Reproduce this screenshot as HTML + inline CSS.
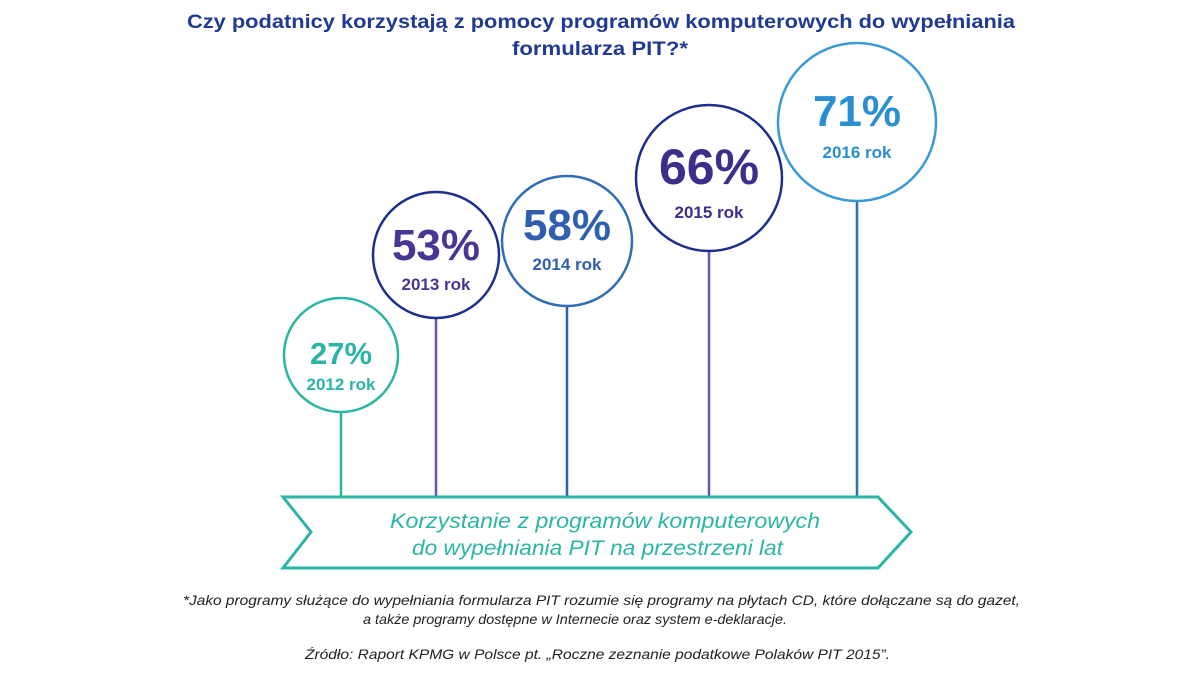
<!DOCTYPE html>
<html><head><meta charset="utf-8"><style>
html,body{margin:0;padding:0;background:#fff;}
svg{display:block;}
text{font-family:"Liberation Sans",sans-serif;}
</style></head><body>
<svg width="1200" height="675" viewBox="0 0 1200 675" xmlns="http://www.w3.org/2000/svg">
<text x="187" y="28" textLength="828" lengthAdjust="spacingAndGlyphs" font-size="19.5" font-weight="bold" fill="#1f3a93">Czy podatnicy korzystają z pomocy programów komputerowych do wypełniania</text>
<text x="512" y="55" textLength="176" lengthAdjust="spacingAndGlyphs" font-size="19.5" font-weight="bold" fill="#1f3a93">formularza PIT?*</text>

<g stroke-width="2.5" fill="#fff">
<line x1="341" y1="413" x2="341" y2="497" stroke="#2bb5a5"/>
<line x1="436" y1="318" x2="436" y2="497" stroke="#6b55b0"/>
<line x1="567" y1="306" x2="567" y2="497" stroke="#2f5fb0"/>
<line x1="709" y1="251" x2="709" y2="497" stroke="#6b55b0"/>
<line x1="857" y1="201" x2="857" y2="497" stroke="#2f6db5"/>
<circle cx="341" cy="355" r="57" stroke="#2bb5a5"/>
<circle cx="436" cy="255" r="63" stroke="#1e2e8c"/>
<circle cx="567" cy="241" r="65" stroke="#2f6db5"/>
<circle cx="709" cy="178" r="73" stroke="#1e2e8c"/>
<circle cx="857" cy="122" r="79" stroke="#3a9ad6"/>
</g>

<g font-weight="bold" text-anchor="middle">
<text x="341" y="364" font-size="31" fill="#2bb5a5">27%</text>
<text x="341" y="390" font-size="17" fill="#2bb5a5">2012 rok</text>
<text x="436" y="260" font-size="44" fill="#4a3594">53%</text>
<text x="436" y="290" font-size="17" fill="#4a3594">2013 rok</text>
<text x="567" y="240" font-size="44" fill="#2f5fb0">58%</text>
<text x="567" y="270" font-size="17" fill="#2f5fb0">2014 rok</text>
<text x="709" y="184" font-size="50" fill="#3d2e8c">66%</text>
<text x="709" y="218" font-size="17" fill="#3d2e8c">2015 rok</text>
<text x="857" y="126" font-size="44" fill="#2a8fd0">71%</text>
<text x="857" y="158" font-size="17" fill="#2a8fd0">2016 rok</text>
</g>

<polygon points="283,497 878,497 911,532 878,568 283,568 311,532" fill="#fff" stroke="#2bb5a5" stroke-width="3"/>
<text x="390" y="528" textLength="430" lengthAdjust="spacingAndGlyphs" font-size="21.5" font-style="italic" fill="#2bb5a5">Korzystanie z programów komputerowych</text>
<text x="412" y="555" textLength="371" lengthAdjust="spacingAndGlyphs" font-size="21.5" font-style="italic" fill="#2bb5a5">do wypełniania PIT na przestrzeni lat</text>

<g font-size="14" font-style="italic" fill="#222">
<text x="183" y="605" textLength="837" lengthAdjust="spacingAndGlyphs">*Jako programy służące do wypełniania formularza PIT rozumie się programy na płytach CD, które dołączane są do gazet,</text>
<text x="363" y="624" textLength="424" lengthAdjust="spacingAndGlyphs">a także programy dostępne w Internecie oraz system e-deklaracje.</text>
<text x="305" y="659" textLength="585" lengthAdjust="spacingAndGlyphs">Źródło: Raport KPMG w Polsce pt. „Roczne zeznanie podatkowe Polaków PIT 2015”.</text>
</g>
</svg>
</body></html>
